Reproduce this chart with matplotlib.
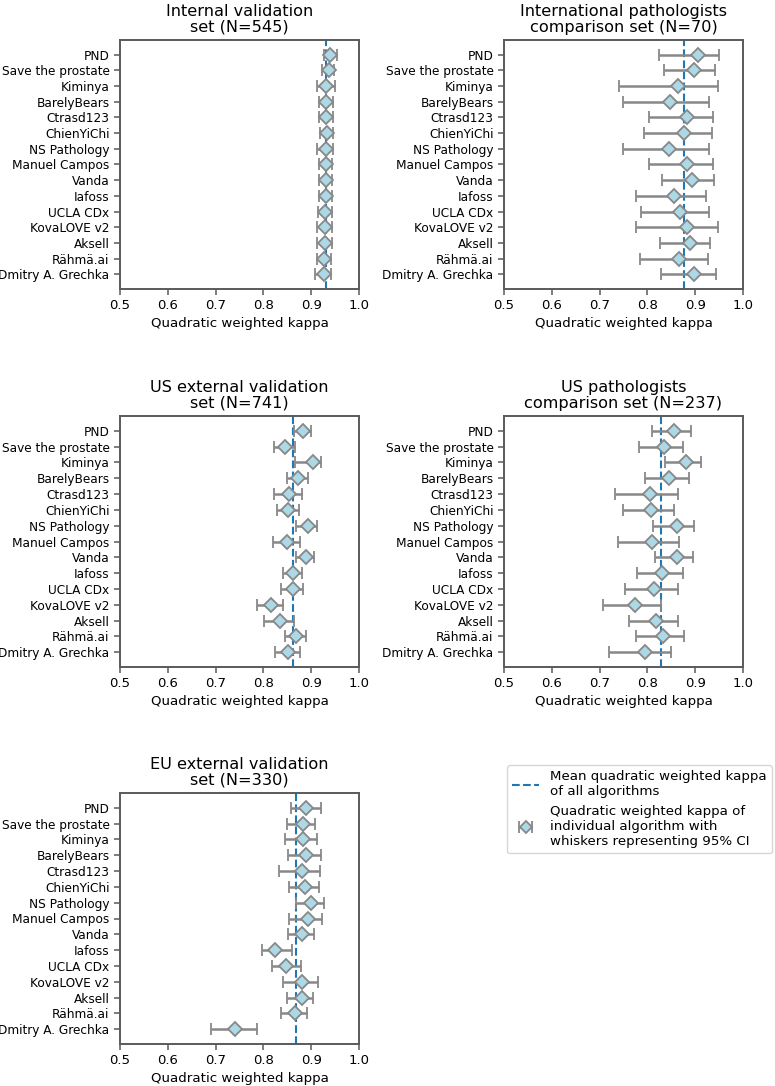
import matplotlib
matplotlib.use("Agg")
import matplotlib.pyplot as plt
from matplotlib.lines import Line2D
import numpy as np

teams = ["PND", "Save the prostate", "Kiminya", "BarelyBears", "Ctrasd123",
         "ChienYiChi", "NS Pathology", "Manuel Campos", "Vanda", "Iafoss",
         "UCLA CDx", "KovaLOVE v2", "Aksell", "Rähmä.ai", "Dmitry A. Grechka"]

titles = ["Internal validation\nset (N=545)",
          "International pathologists\ncomparison set (N=70)",
          "US external validation\nset (N=741)",
          "US pathologists\ncomparison set (N=237)",
          "EU external validation\nset (N=330)"]

# Internal validation
int_k = [0.940, 0.937, 0.931, 0.932, 0.932, 0.933, 0.930, 0.930, 0.930, 0.930, 0.929, 0.928, 0.929, 0.927, 0.926]
int_lo = [0.926, 0.923, 0.912, 0.917, 0.917, 0.919, 0.912, 0.916, 0.916, 0.916, 0.914, 0.912, 0.913, 0.912, 0.908]
int_hi = [0.953, 0.948, 0.950, 0.946, 0.946, 0.945, 0.946, 0.943, 0.943, 0.943, 0.943, 0.943, 0.943, 0.942, 0.942]
int_mean = 0.932

# International pathologists comparison
ipc_k = [0.906, 0.898, 0.864, 0.847, 0.883, 0.876, 0.845, 0.883, 0.894, 0.856, 0.868, 0.883, 0.889, 0.866, 0.898]
ipc_lo = [0.824, 0.835, 0.741, 0.748, 0.804, 0.792, 0.748, 0.804, 0.831, 0.776, 0.786, 0.777, 0.826, 0.784, 0.828]
ipc_hi = [0.950, 0.941, 0.948, 0.929, 0.937, 0.935, 0.929, 0.937, 0.939, 0.922, 0.929, 0.948, 0.932, 0.927, 0.944]
ipc_mean = 0.876

# US external validation
use_k = [0.883, 0.845, 0.904, 0.873, 0.854, 0.852, 0.893, 0.850, 0.889, 0.862, 0.861, 0.815, 0.834, 0.869, 0.852]
use_lo = [0.864, 0.822, 0.867, 0.850, 0.822, 0.828, 0.869, 0.820, 0.869, 0.840, 0.837, 0.786, 0.802, 0.846, 0.824]
use_hi = [0.900, 0.867, 0.920, 0.893, 0.881, 0.874, 0.912, 0.876, 0.906, 0.881, 0.882, 0.840, 0.864, 0.890, 0.877]
use_mean = 0.862

# US pathologists comparison
upc_k = [0.855, 0.834, 0.880, 0.845, 0.805, 0.808, 0.861, 0.810, 0.861, 0.831, 0.813, 0.775, 0.819, 0.833, 0.795]
upc_lo = [0.810, 0.783, 0.836, 0.794, 0.732, 0.749, 0.812, 0.739, 0.815, 0.779, 0.753, 0.708, 0.762, 0.777, 0.720]
upc_hi = [0.892, 0.875, 0.912, 0.886, 0.863, 0.856, 0.897, 0.866, 0.896, 0.875, 0.863, 0.828, 0.864, 0.877, 0.849]
upc_mean = 0.829

# EU external validation
eu_k = [0.890, 0.882, 0.882, 0.890, 0.880, 0.886, 0.899, 0.893, 0.881, 0.824, 0.848, 0.881, 0.880, 0.866, 0.740]
eu_lo = [0.857, 0.850, 0.846, 0.852, 0.833, 0.853, 0.868, 0.853, 0.852, 0.798, 0.818, 0.841, 0.850, 0.836, 0.690]
eu_hi = [0.920, 0.907, 0.913, 0.921, 0.918, 0.916, 0.926, 0.923, 0.906, 0.859, 0.878, 0.914, 0.904, 0.891, 0.786]
eu_mean = 0.868

datasets = [(int_k, int_lo, int_hi, int_mean),
            (ipc_k, ipc_lo, ipc_hi, ipc_mean),
            (use_k, use_lo, use_hi, use_mean),
            (upc_k, upc_lo, upc_hi, upc_mean),
            (eu_k, eu_lo, eu_hi, eu_mean)]

W, H = 775, 1086
fig = plt.figure(figsize=(W / 100, H / 100), dpi=100)

# axes boxes in pixels: left, top, right, bottom
boxes = [(120, 40, 359, 289), (504, 40, 743, 289),
         (120, 416, 359, 667), (504, 416, 743, 667),
         (120, 793, 359, 1044)]

spine_col = "#5a5a5a"
grey = "#888888"

eb_handle = None
line_handle = None
for (k, lo, hi, mean), title, (l, t, r, b) in zip(datasets, titles, boxes):
    ax = fig.add_axes([l / W, 1 - b / H, (r - l) / W, (b - t) / H])
    k = np.array(k); lo = np.array(lo); hi = np.array(hi)
    y = np.arange(len(teams))[::-1]
    ln = ax.axvline(mean, color="#1f77b4", linestyle="--", linewidth=1.5, zorder=1)
    eb = ax.errorbar(k, y, xerr=[k - lo, hi - k], fmt="D", color=grey,
                     markerfacecolor="lightblue", markeredgecolor=grey,
                     markersize=7.5, markeredgewidth=1.3, ecolor=grey,
                     elinewidth=1.8, capsize=4.3, capthick=1.8, zorder=3)
    if eb_handle is None:
        eb_handle, line_handle = eb, ln
    ax.set_yticks(y)
    ax.set_yticklabels(teams, fontsize=8.7)
    ax.set_ylim(-0.93, len(teams) - 1 + 0.93)
    ax.set_xlim(0.5, 1.0)
    ax.set_xticks([0.5, 0.6, 0.7, 0.8, 0.9, 1.0])
    ax.set_xticklabels(["0.5", "0.6", "0.7", "0.8", "0.9", "1.0"], fontsize=9.5)
    ax.set_xlabel("Quadratic weighted kappa", fontsize=9.6, labelpad=3)
    ax.set_title(title, fontsize=11.6, linespacing=1.05, pad=6)
    for s in ax.spines.values():
        s.set_color(spine_col)
        s.set_linewidth(1.4)
    ax.tick_params(colors=spine_col, labelcolor="black", width=1.1, length=4)

labels = ["Mean quadratic weighted kappa\nof all algorithms",
          "Quadratic weighted kappa of\nindividual algorithm with\nwhiskers representing 95% CI"]
fig.legend([line_handle, eb_handle], labels, loc="upper left",
           bbox_to_anchor=(507 / W, 1 - 765 / H), borderaxespad=0,
           fontsize=9.6, handlelength=2.0, labelspacing=0.5, borderpad=0.4,
           handletextpad=0.8, frameon=True, markerscale=0.8)

fig.savefig("out.png", dpi=100)
